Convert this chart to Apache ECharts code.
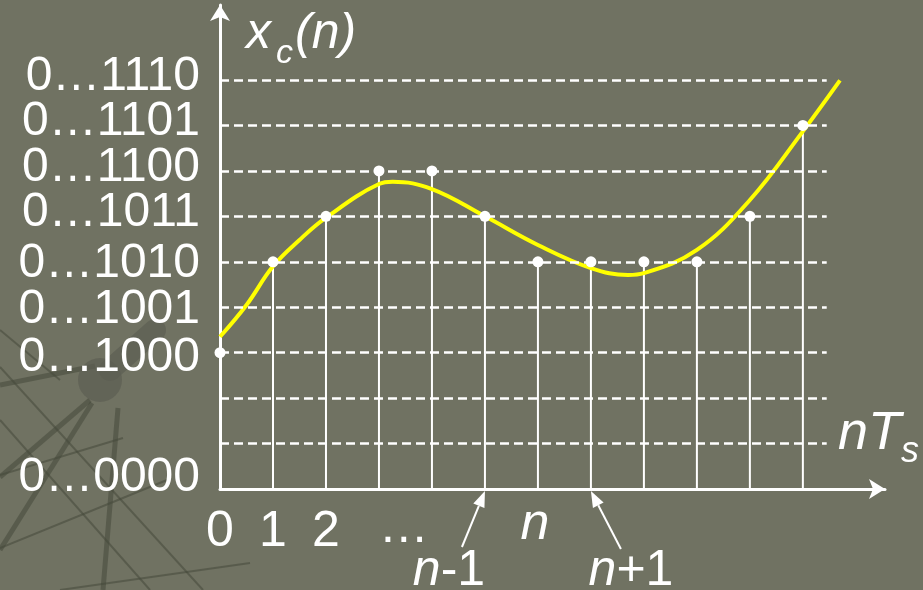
<!DOCTYPE html>
<html>
<head>
<meta charset="utf-8">
<script src="https://cdn.jsdelivr.net/npm/echarts@6/dist/echarts.min.js"></script>
<style>
html, body { margin: 0; padding: 0; background: #707262; }
#chart { width: 923px; height: 590px; }
</style>
</head>
<body>
<div id="chart"></div>
<script>
// 采样点序号与量化后的电平（0..9 档）
const SAMPLE_N = [0, 1, 2, 3, 4, 5, 6, 7, 8, 9, 10, 11];
const SAMPLE_LEVEL = [3, 5, 6, 7, 7, 6, 5, 5, 5, 5, 6, 8];

// 连续信号 x_c 的读数点（同一坐标系）
const CURVE_N = [0, 0.5, 1, 1.5, 2, 3, 3.26, 4, 5, 6, 7, 7.7, 8, 9, 10, 11, 11.7];
const CURVE_LEVEL = [3.35, 4.05, 4.9, 5.48, 5.97, 6.71, 6.76, 6.6, 6.0, 5.37, 4.86, 4.71, 4.75, 5.26, 6.36, 7.87, 8.99];

// 纵轴刻度标签
const Y_TICK_VALUES = [0, 3, 4, 5, 6, 7, 8, 9];
const Y_TICK_LABELS = ["0…0000", "0…1000", "0…1001", "0…1010", "0…1011", "0…1100", "0…1101", "0…1110"];
const GRID_LEVELS = [1, 2, 3, 4, 5, 6, 7, 8, 9];

// 横轴刻度标签
const X_TICK_VALUES = [0, 1, 2];
const X_TICK_LABELS = ["0", "1", "2"];

const WHITE = "#ffffff";
const YELLOW = "#ffff00";
const FONT = "Liberation Sans, Arial, sans-serif";
const DECO = "rgba(70,72,58,0.55)";

// 纵轴标签的微调（上/下内边距，模拟原图里略有参差的排版）
const Y_LABEL_PAD = {
  0: [0, 0, 22, 0],
  3: [10, 0, 0, 0],
  4: [6, 0, 0, 0],
  5: [4, 0, 0, 0],
  6: [0, 0, 8, 0],
  7: [0, 0, 6, 0],
  8: [0, 0, 8, 0],
  9: [0, 0, 6, 0],
};

const chart = echarts.init(document.getElementById("chart"), null, { renderer: "canvas" });

const pairs = (xs, ys) => xs.map((x, i) => [x, ys[i]]);

const yRich = {};
Object.keys(Y_LABEL_PAD).forEach((k) => {
  yRich["l" + k] = { color: WHITE, fontSize: 48, fontFamily: FONT, padding: Y_LABEL_PAD[k] };
});

chart.setOption({
  backgroundColor: "#707262",
  animation: false,
  grid: { left: 220, top: 5, right: 38, bottom: 101 },
  xAxis: {
    type: "value",
    min: 0,
    max: 12.55,
    interval: 1,
    axisLine: {
      show: true,
      symbol: ["none", "arrow"],
      symbolSize: [15, 16],
      lineStyle: { color: WHITE, width: 3 },
    },
    axisTick: { show: false },
    splitLine: { show: false },
    axisLabel: {
      color: WHITE,
      fontSize: 50,
      fontFamily: FONT,
      margin: 18,
      showMaxLabel: false,
      formatter: (v) => {
        const i = X_TICK_VALUES.indexOf(v);
        return i >= 0 ? X_TICK_LABELS[i] : "";
      },
    },
  },
  yAxis: {
    type: "value",
    min: 0,
    max: 10.65,
    interval: 1,
    axisLine: {
      show: true,
      symbol: ["none", "arrow"],
      symbolSize: [15, 16],
      lineStyle: { color: WHITE, width: 3 },
    },
    axisTick: { show: false },
    splitLine: { show: false },
    axisLabel: {
      color: WHITE,
      fontSize: 48,
      fontFamily: FONT,
      margin: 20,
      showMaxLabel: false,
      formatter: (v) => {
        const i = Y_TICK_VALUES.indexOf(v);
        if (i < 0) return "";
        return "{l" + v + "|" + Y_TICK_LABELS[i] + "}";
      },
      rich: yRich,
    },
  },
  series: [
    {
      // 采样竖线 + 虚线网格
      type: "bar",
      data: pairs(SAMPLE_N, SAMPLE_LEVEL),
      barWidth: 2,
      itemStyle: { color: WHITE },
      z: 2,
      silent: true,
      markLine: {
        silent: true,
        symbol: ["none", "none"],
        label: { show: false },
        lineStyle: { color: WHITE, width: 2.5, type: [9, 5], opacity: 1 },
        data: GRID_LEVELS.map((v) => [{ coord: [0, v] }, { coord: [11.45, v] }]),
      },
    },
    {
      type: "line",
      data: pairs(CURVE_N, CURVE_LEVEL),
      smooth: 0.4,
      showSymbol: false,
      lineStyle: { color: YELLOW, width: 4 },
      z: 3,
      silent: true,
    },
    {
      type: "scatter",
      data: pairs(SAMPLE_N, SAMPLE_LEVEL),
      symbolSize: 11,
      itemStyle: { color: WHITE, opacity: 1 },
      z: 4,
      silent: true,
    },
  ],
});

// 注释：坐标轴名称、n-1 / n / n+1 标记与箭头
const px = (n, v) => chart.convertToPixel({ gridIndex: 0 }, [n, v]);
const txt = (x, y, text, size, italic, align) => ({
  type: "text",
  x: x,
  y: y,
  silent: true,
  z: 10,
  style: {
    text: text,
    fill: WHITE,
    font: (italic ? "italic " : "") + size + "px " + FONT,
    align: align || "left",
    verticalAlign: "top",
  },
});
const arrow = (from, to) => {
  const dx = to[0] - from[0], dy = to[1] - from[1];
  const len = Math.hypot(dx, dy), ux = dx / len, uy = dy / len;
  const bx = to[0] - ux * 16, by = to[1] - uy * 16;
  return [
    { type: "line", silent: true, z: 10, shape: { x1: from[0], y1: from[1], x2: bx, y2: by }, style: { stroke: WHITE, lineWidth: 2 } },
    { type: "polygon", silent: true, z: 10, shape: { points: [to, [bx - uy * 6, by + ux * 6], [bx + uy * 6, by - ux * 6]] }, style: { fill: WHITE } },
  ];
};

const pN1 = px(5, 0), pN = px(6, 0), pP1 = px(7, 0), pDots = px(3.47, 0);

// 左下角的背景装饰线
const deco = [
  [[0, 385], [95, 366]],
  [[90, 400], [0, 477]],
  [[92, 403], [0, 550]],
  [[118, 408], [103, 590]],
  [[0, 367], [203, 590]],
  [[0, 330], [60, 380]],
  [[0, 475], [123, 438]],
  [[0, 548], [167, 480]],
  [[60, 590], [250, 563]],
  [[0, 420], [150, 590]],
].map((l, i) => ({
  type: "line",
  silent: true,
  z: 0,
  shape: { x1: l[0][0], y1: l[0][1], x2: l[1][0], y2: l[1][1] },
  style: { stroke: DECO, lineWidth: i < 4 ? 5 : 2 },
}));

chart.setOption({
  graphic: [
    ...deco,
    { type: "circle", silent: true, z: 0, shape: { cx: 100, cy: 380, r: 22 }, style: { fill: "rgba(92,94,82,0.7)" } },
    { type: "line", silent: true, z: 0, shape: { x1: 110, y1: 370, x2: 155, y2: 330 }, style: { stroke: "rgba(92,94,82,0.7)", lineWidth: 22, lineCap: "round" } },
    txt(246, 9, "x", 50, true),
    txt(276, 37, "c", 34, true),
    txt(295, 9, "(n)", 50, true),
    txt(838, 407, "nT", 54, true),
    txt(901, 434, "s", 36, true),
    txt(pDots[0], 503, "…", 50, false, "center"),
    txt(pN[0] - 3, 499, "n", 52, true, "center"),
    {
      type: "text", x: 449, y: 546, silent: true, z: 10,
      style: {
        text: "{i|n}{r|-1}",
        align: "center",
        verticalAlign: "top",
        rich: {
          i: { fill: WHITE, font: "italic 50px " + FONT },
          r: { fill: WHITE, font: "50px " + FONT },
        },
      },
    },
    {
      type: "text", x: 631, y: 546, silent: true, z: 10,
      style: {
        text: "{i|n}{r|+1}",
        align: "center",
        verticalAlign: "top",
        rich: {
          i: { fill: WHITE, font: "italic 50px " + FONT },
          r: { fill: WHITE, font: "50px " + FONT },
        },
      },
    },
    ...arrow([pN1[0] - 23, pN1[1] + 58], [pN1[0], pN1[1] + 2]),
    ...arrow([pP1[0] + 30, pP1[1] + 60], [pP1[0], pP1[1] + 2]),
  ],
});
</script>
</body>
</html>
